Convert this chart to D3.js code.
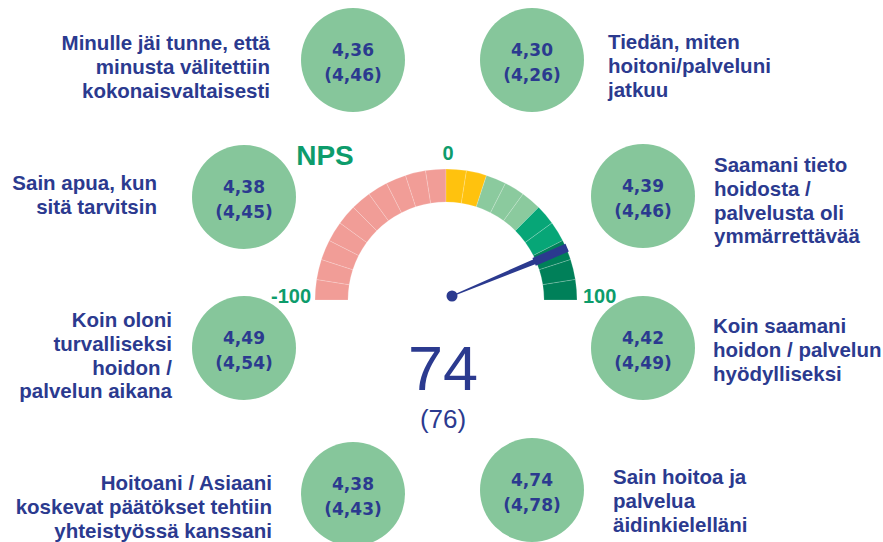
<!DOCTYPE html>
<html>
<head>
<meta charset="utf-8">
<script src="https://cdn.jsdelivr.net/npm/d3@7"></script>
<style>
  body { margin: 0; background: #fff; }
  svg { display: block; }
</style>
</head>
<body>
<div id="chart"></div>
<script>
// question texts (one entry per line of the label)
var questions = [
  ["Minulle jäi tunne, että", "minusta välitettiin", "kokonaisvaltaisesti"],
  ["Tiedän, miten", "hoitoni/palveluni", "jatkuu"],
  ["Sain apua, kun", "sitä tarvitsin"],
  ["Saamani tieto", "hoidosta /", "palvelusta oli", "ymmärrettävää"],
  ["Koin oloni", "turvalliseksi", "hoidon /", "palvelun aikana"],
  ["Koin saamani", "hoidon / palvelun", "hyödylliseksi"],
  ["Hoitoani / Asiaani", "koskevat päätökset tehtiin", "yhteistyössä kanssani"],
  ["Sain hoitoa ja", "palvelua", "äidinkielelläni"]
];
var scores     = [4.36, 4.30, 4.38, 4.39, 4.49, 4.42, 4.38, 4.74];
var prevScores = [4.46, 4.26, 4.45, 4.46, 4.54, 4.49, 4.43, 4.78];

var npsValue = 74;
var npsPrev  = 76;
var gaugeTicks = [-100, 0, 100];
var bandBreaks = [-100, 0, 20, 50, 70, 100];

// layout
var chart_width  = 883;
var chart_height = 542;
var bandColors = ["#f19d97", "#ffc20e", "#8bca9e", "#07a677", "#008059"];
var blue  = "#2b3a8f";
var green = "#0d9c6b";

// circle centre, label anchor, first baseline
var slots = [
  { cx: 353, cy: 60,  lx: 270, ly: 50,  anchor: "end" },
  { cx: 532, cy: 60,  lx: 608, ly: 49,  anchor: "start" },
  { cx: 244, cy: 197, lx: 157, ly: 190, anchor: "end" },
  { cx: 643, cy: 196, lx: 714, ly: 172, anchor: "start" },
  { cx: 244, cy: 348, lx: 172, ly: 327, anchor: "end" },
  { cx: 643, cy: 348, lx: 713, ly: 333, anchor: "start" },
  { cx: 353, cy: 494, lx: 272, ly: 490, anchor: "end" },
  { cx: 532, cy: 490, lx: 613, ly: 484, anchor: "start" }
];

var fi = d3.formatLocale({ decimal: ",", thousands: " ", grouping: [3], currency: ["", "€"] });
var fmt = fi.format(".2f");

var svg = d3.select("#chart")
  .append("svg")
  .attr("width", chart_width)
  .attr("height", chart_height);

// Circles with scores
var items = svg.selectAll("g.item")
  .data(questions)
  .enter()
  .append("g")
  .attr("class", "item");

items.append("circle")
  .attr("cx", function(d, i){ return slots[i].cx; })
  .attr("cy", function(d, i){ return slots[i].cy; })
  .attr("r", 52)
  .attr("fill", "#86c69b");

items.append("text")
  .attr("x", function(d, i){ return slots[i].cx; })
  .attr("y", function(d, i){ return slots[i].cy - 4; })
  .attr("text-anchor", "middle")
  .attr("font-family", "DejaVu Sans")
  .attr("font-weight", "bold")
  .attr("font-size", 17)
  .attr("fill", blue)
  .text(function(d, i){ return fmt(scores[i]); });

items.append("text")
  .attr("x", function(d, i){ return slots[i].cx; })
  .attr("y", function(d, i){ return slots[i].cy + 21; })
  .attr("text-anchor", "middle")
  .attr("font-family", "DejaVu Sans")
  .attr("font-weight", "bold")
  .attr("font-size", 17)
  .attr("fill", blue)
  .text(function(d, i){ return "(" + fmt(prevScores[i]) + ")"; });

// Question labels
items.append("text")
  .attr("text-anchor", function(d, i){ return slots[i].anchor; })
  .attr("font-family", "Liberation Sans, Arial, sans-serif")
  .attr("font-weight", "bold")
  .attr("font-size", 20.5)
  .attr("fill", blue)
  .each(function(d, i){
    var t = d3.select(this);
    d.forEach(function(line, k){
      t.append("tspan")
        .attr("x", slots[i].lx)
        .attr("y", slots[i].ly + k * 23.8)
        .text(line);
    });
  });

// Gauge
var gx = 446, gy = 300;
var inner = 98, outer = 131;

var angle = d3.scaleLinear()
  .domain([-100, 100])
  .range([-Math.PI / 2, Math.PI / 2]);

var bandColor = d3.scaleThreshold()
  .domain(bandBreaks.slice(1, -1))
  .range(bandColors);

var arc = d3.arc()
  .innerRadius(inner)
  .outerRadius(outer);

var gauge = svg.append("g")
  .attr("transform", "translate(" + gx + "," + gy + ")");

gauge.selectAll("path.seg")
  .data(d3.range(-100, 100, 10))
  .enter()
  .append("path")
  .attr("class", "seg")
  .attr("d", function(d){
    return arc({ startAngle: angle(d), endAngle: angle(d + 10) });
  })
  .attr("fill", function(d){ return bandColor(d); })
  .attr("stroke", "rgba(255,255,255,0.18)")
  .attr("stroke-width", 1);

// Needle
var a = angle(npsValue);
var ux = Math.sin(a), uy = -Math.cos(a);
var px = -uy, py = ux;
function pt(r, w){
  return [r * ux + w * px, r * uy + w * py];
}
var pivot = [6, -4];
var needle = [
  [pivot[0] + 0.6 * px, pivot[1] + 0.6 * py],
  pt(inner - 2, 2.6),
  pt(inner - 2, 4.2),
  pt(outer + 1, 4.2),
  pt(outer + 1, -4.2),
  pt(inner - 2, -4.2),
  pt(inner - 2, -2.6),
  [pivot[0] - 0.6 * px, pivot[1] - 0.6 * py]
];
gauge.append("path")
  .attr("d", d3.line()(needle) + "Z")
  .attr("fill", blue);

gauge.append("circle")
  .attr("cx", pivot[0])
  .attr("cy", pivot[1])
  .attr("r", 5.5)
  .attr("fill", blue);

// Tick labels
gauge.selectAll("text.tick")
  .data(gaugeTicks)
  .enter()
  .append("text")
  .attr("class", "tick")
  .attr("x", function(d){
    if (d === 0) return 2;
    return d < 0 ? -outer - 4 : outer + 6;
  })
  .attr("y", function(d){ return d === 0 ? -140 : 3; })
  .attr("text-anchor", function(d){
    if (d === 0) return "middle";
    return d < 0 ? "end" : "start";
  })
  .attr("font-family", "Liberation Sans, Arial, sans-serif")
  .attr("font-weight", "bold")
  .attr("font-size", 20)
  .attr("fill", green)
  .text(function(d){ return d; });

svg.append("text")
  .attr("x", 325)
  .attr("y", 165)
  .attr("text-anchor", "middle")
  .attr("font-family", "Liberation Sans, Arial, sans-serif")
  .attr("font-weight", "bold")
  .attr("font-size", 28)
  .attr("fill", green)
  .text("NPS");

// NPS value
svg.append("text")
  .attr("x", 443)
  .attr("y", 390)
  .attr("text-anchor", "middle")
  .attr("font-family", "Liberation Sans, Arial, sans-serif")
  .attr("font-size", 63)
  .attr("fill", blue)
  .text(npsValue);

svg.append("text")
  .attr("x", 443)
  .attr("y", 428)
  .attr("text-anchor", "middle")
  .attr("font-family", "Liberation Sans, Arial, sans-serif")
  .attr("font-size", 26)
  .attr("fill", blue)
  .text("(" + npsPrev + ")");
</script>
</body>
</html>
